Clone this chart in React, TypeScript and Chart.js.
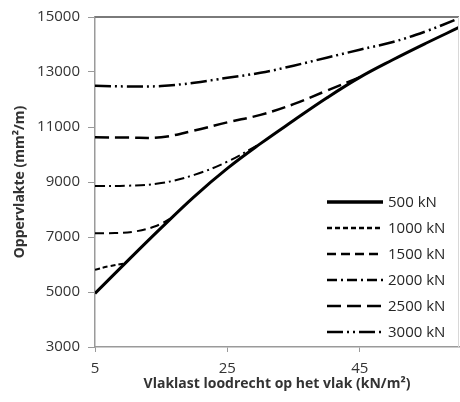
import React, { useEffect, useRef } from "react";
import { Chart, registerables } from "chart.js";

Chart.register(...registerables);

const xTicks = [5, 25, 45];
const yTicks = [3000, 5000, 7000, 9000, 11000, 13000, 15000];

const seriesLabels = ["500 kN", "1000 kN", "1500 kN", "2000 kN", "2500 kN", "3000 kN"];

const x500 = [5, 10, 15, 20, 25, 30, 35, 40, 45, 50, 55, 60];
const y500 = [4950, 6150, 7330, 8470, 9495, 10395, 11235, 12055, 12805, 13445, 14045, 14620];

const x1000 = [5, 7, 9.5];
const y1000 = [5810, 5930, 6040];

const x1500 = [5, 8, 11, 14, 16.5];
const y1500 = [7140, 7145, 7200, 7380, 7672];

const x2000 = [5, 10, 15, 20, 25, 30];
const y2000 = [8850, 8865, 8960, 9260, 9740, 10395];

const x2500 = [5, 10, 15, 20, 25, 30, 35, 40, 45];
const y2500 = [10630, 10615, 10630, 10870, 11170, 11440, 11830, 12320, 12805];

const x3000 = [5, 10, 15, 20, 25, 30, 35, 40, 45, 50, 55, 60];
const y3000 = [12500, 12475, 12490, 12610, 12790, 12970, 13230, 13520, 13810, 14090, 14480, 14950];

const dashes = [[], [5, 3], [9, 5], [10, 4, 2, 4], [14, 6], [16, 4, 2, 4, 2, 4]];
const widths = [3, 2, 2, 2, 2.5, 2.5];

const FONT = "'Open Sans', sans-serif";

const pts = (xs: number[], ys: number[]) => xs.map((x, i) => ({ x, y: ys[i] }));

export default function App() {
  const ref = useRef<HTMLCanvasElement>(null);
  useEffect(() => {
    document.body.style.margin = "0";
    const data = [
      pts(x500, y500),
      pts(x1000, y1000),
      pts(x1500, y1500),
      pts(x2000, y2000),
      pts(x2500, y2500),
      pts(x3000, y3000),
    ];
    const order = [1, 2, 3, 4, 5, 0];
    const legendPlugin = {
      id: "customLegend",
      afterDatasetsDraw(chart: any) {
        const ctx = chart.ctx;
        const area = chart.chartArea;
        ctx.save();
        ctx.strokeStyle = "#7a7a7a";
        ctx.lineWidth = 2;
        ctx.beginPath();
        ctx.moveTo(area.left, area.top);
        ctx.lineTo(area.right, area.top);
        ctx.stroke();
        ctx.strokeStyle = "#d8d8d8";
        ctx.lineWidth = 1;
        ctx.beginPath();
        ctx.moveTo(area.right - 0.5, area.top);
        ctx.lineTo(area.right - 0.5, area.bottom);
        ctx.stroke();
        const x0 = 327;
        const x1 = 383;
        const y0 = 202;
        const step = 26;
        ctx.font = `15px ${FONT}`;
        ctx.textBaseline = "middle";
        ctx.fillStyle = "#262626";
        seriesLabels.forEach((lab, i) => {
          const y = y0 + i * step;
          ctx.strokeStyle = "#000";
          ctx.lineWidth = i === 0 ? 3.5 : 2.5;
          ctx.setLineDash(dashes[i]);
          ctx.beginPath();
          ctx.moveTo(x0, y);
          ctx.lineTo(x1, y);
          ctx.stroke();
          ctx.setLineDash([]);
          ctx.fillText(lab, 388, y + 1);
        });
        ctx.restore();
      },
    };
    const chart = new Chart(ref.current!, {
      type: "line",
      data: {
        datasets: order.map((i) => ({
          label: seriesLabels[i],
          data: data[i],
          borderColor: "#000",
          borderWidth: widths[i],
          borderDash: dashes[i],
          pointRadius: 0,
          fill: false,
          tension: 0.4,
        })),
      },
      options: {
        animation: false,
        responsive: false,
        maintainAspectRatio: false,
        layout: { padding: { left: 0, right: 1, top: 15, bottom: 0 } },
        plugins: { legend: { display: false }, tooltip: { enabled: false } },
        scales: {
          x: {
            type: "linear",
            min: 5,
            max: 60,
            afterBuildTicks: (s: any) => {
              s.ticks = xTicks.map((v) => ({ value: v }));
            },
            afterFit: (s: any) => {
              s.height = 55;
            },
            grid: {
              drawOnChartArea: false,
              drawTicks: true,
              tickLength: 5,
              color: "#9a9a9a",
            },
            border: { color: "#9a9a9a", width: 1.5 },
            ticks: {
              padding: 8,
              color: "#333",
              font: { family: FONT, size: 15 },
              maxRotation: 0,
              callback: (v: any) => String(v),
            },
            title: {
              display: true,
              text: "Vlaklast loodrecht op het vlak (kN/m²)",
              color: "#333",
              font: { family: FONT, size: 14, weight: "bold" },
              padding: { top: 0, bottom: 10 },
            },
          },
          y: {
            type: "linear",
            min: 3000,
            max: 15000,
            afterBuildTicks: (s: any) => {
              s.ticks = yTicks.map((v) => ({ value: v }));
            },
            afterFit: (s: any) => {
              s.width = 95;
            },
            grid: {
              drawOnChartArea: false,
              drawTicks: true,
              tickLength: 7,
              color: "#9a9a9a",
            },
            border: { color: "#9a9a9a", width: 1.5 },
            ticks: {
              padding: 8,
              color: "#333",
              font: { family: FONT, size: 15 },
              callback: (v: any) => String(v),
            },
            title: {
              display: true,
              text: "Oppervlakte (mm²/m)",
              color: "#333",
              font: { family: FONT, size: 14, weight: "bold" },
              padding: { top: 12, bottom: 0 },
            },
          },
        },
      },
      plugins: [legendPlugin],
    });
    return () => chart.destroy();
  }, []);
  return (
    <div style={{ width: 460, height: 402, background: "#fff" }}>
      <canvas ref={ref} width={460} height={402} style={{ display: "block" }} />
    </div>
  );
}
